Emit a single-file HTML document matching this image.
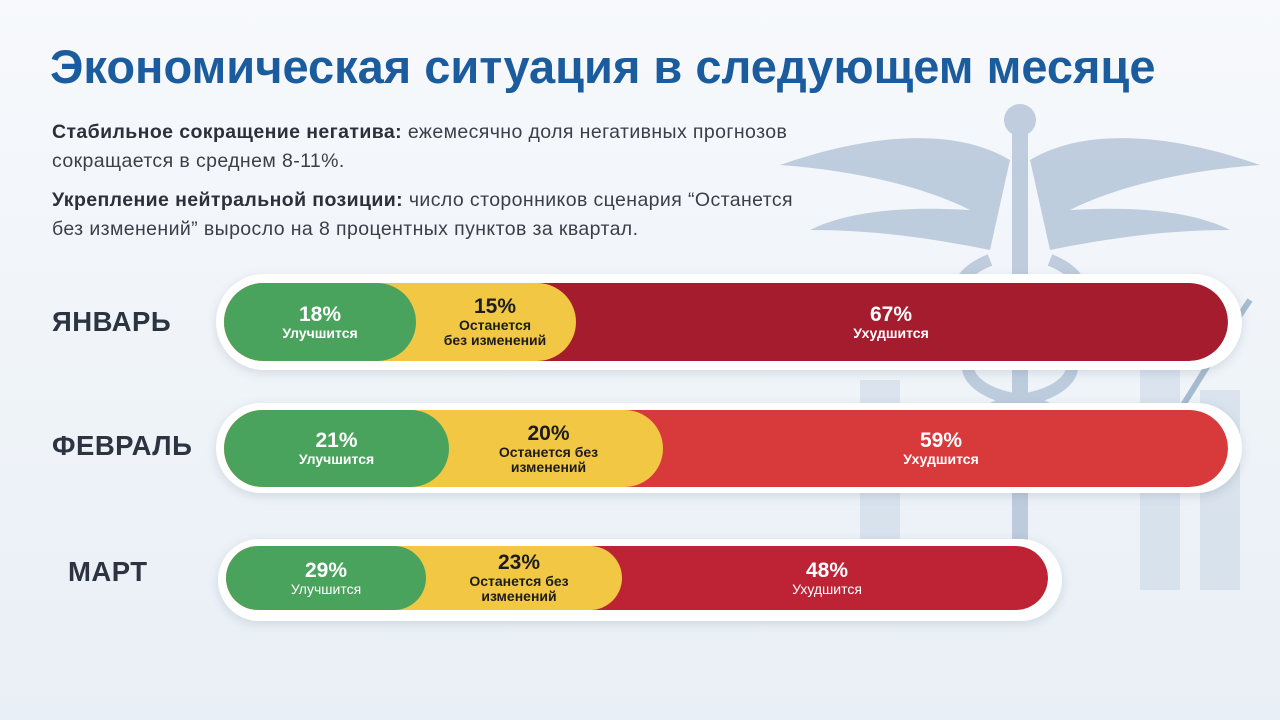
<!DOCTYPE html>
<html><head><meta charset="utf-8"><style>
*{margin:0;padding:0;box-sizing:border-box}
body{width:1280px;height:720px;overflow:hidden;background:linear-gradient(180deg,#f7f9fc 0%,#eef3f8 60%,#e9eff6 100%);font-family:"Liberation Sans","Noto Sans CJK SC",sans-serif;position:relative}
h1{position:absolute;left:50px;top:39px;font-size:47px;font-weight:bold;color:#1b5c9e;white-space:nowrap}
.p{position:absolute;left:52px;font-size:19.5px;letter-spacing:0.4px;color:#3a3f48;line-height:29px;width:820px;white-space:nowrap}
.p b{color:#2c3038}
.lab{position:absolute;font-size:27.5px;font-weight:bold;color:#2c3442;letter-spacing:0.5px}
.outer{position:absolute;background:#fff;border-radius:50px;box-shadow:0 3px 10px rgba(80,100,130,.18)}
.bar{position:absolute;border-radius:40px;overflow:hidden}
.seg{position:absolute;top:0;bottom:0;left:0;border-radius:0 40px 40px 0;display:flex;flex-direction:column;align-items:center;justify-content:center;text-align:center;font-weight:bold}
.seg .n{font-size:21px;line-height:22px}
.seg .t{font-size:14px;line-height:15px}
.g{background:#4aa35c;color:#fff;z-index:3;border-radius:40px}
.y{background:#f2c744;color:#1c1c1c;z-index:2}
.r{color:#fff;z-index:1}
</style></head><body>
<svg style="position:absolute;left:760px;top:90px;opacity:0.7" width="520" height="520" viewBox="0 0 520 520">
<g fill="#c5d3e3" opacity="0.7">
<rect x="100" y="290" width="40" height="200"/><rect x="380" y="280" width="40" height="220"/><rect x="440" y="300" width="40" height="200"/>
</g>
<g fill="#a9bcd2">
<rect x="252" y="40" width="16" height="420" rx="5"/>
<circle cx="260" cy="30" r="16"/>
<path d="M250 70 C200 40 120 40 20 75 C90 80 160 95 210 120 C130 115 80 125 50 140 C120 140 180 150 230 160 Z"/>
<path d="M270 70 C320 40 400 40 500 75 C430 80 360 95 310 120 C390 115 440 125 470 140 C400 140 340 150 290 160 Z"/>
<path d="M230 170 C180 190 190 230 260 240 C330 250 330 300 260 310 C200 320 200 360 260 370" fill="none" stroke="#a9bcd2" stroke-width="12"/>
<path d="M290 170 C340 190 330 230 260 240 C190 250 190 300 260 310 C320 320 320 360 260 370" fill="none" stroke="#a9bcd2" stroke-width="12"/>
<path d="M420 320 L470 240 L490 210" fill="none" stroke="#8aa4c0" stroke-width="6"/>
</g>
</svg>
<h1>Экономическая ситуация в следующем месяце</h1>
<div class="p" style="top:118px"><b>Стабильное сокращение негатива:</b> ежемесячно доля негативных прогнозов<br>сокращается в среднем 8-11%.</div>
<div class="p" style="top:186px"><b>Укрепление нейтральной позиции:</b> число сторонников сценария “Останется<br>без изменений” выросло на 8 процентных пунктов за квартал.</div>

<div class="lab" style="left:52px;top:306px">ЯНВАРЬ</div>
<div class="lab" style="left:52px;top:430px">ФЕВРАЛЬ</div>
<div class="lab" style="left:68px;top:556px">МАРТ</div>

<div class="outer" style="left:216px;top:274px;width:1026px;height:96px"></div>
<div class="bar" style="left:224px;top:283px;width:1004px;height:78px">
<div class="seg g" style="width:192px"><div class="n">18%</div><div class="t">Улучшится</div></div>
<div class="seg y" style="width:352px;padding-left:190px"><div class="n">15%</div><div class="t">Останется<br>без изменений</div></div>
<div class="seg r" style="width:1004px;background:#a51c2e;padding-left:330px"><div class="n">67%</div><div class="t">Ухудшится</div></div>
</div>

<div class="outer" style="left:216px;top:403px;width:1026px;height:90px"></div>
<div class="bar" style="left:224px;top:410px;width:1004px;height:77px">
<div class="seg g" style="width:225px"><div class="n">21%</div><div class="t">Улучшится</div></div>
<div class="seg y" style="width:439px;padding-left:210px"><div class="n">20%</div><div class="t">Останется без<br>изменений</div></div>
<div class="seg r" style="width:1004px;background:#d83a3c;padding-left:430px"><div class="n">59%</div><div class="t">Ухудшится</div></div>
</div>

<div class="outer" style="left:218px;top:539px;width:844px;height:82px"></div>
<div class="bar" style="left:226px;top:546px;width:822px;height:64px">
<div class="seg g" style="width:200px"><div class="n">29%</div><div class="t" style="font-weight:normal">Улучшится</div></div>
<div class="seg y" style="width:396px;padding-left:190px"><div class="n">23%</div><div class="t">Останется без<br>изменений</div></div>
<div class="seg r" style="width:822px;background:#bd2334;padding-left:380px"><div class="n">48%</div><div class="t" style="font-weight:normal">Ухудшится</div></div>
</div>
</body></html>
